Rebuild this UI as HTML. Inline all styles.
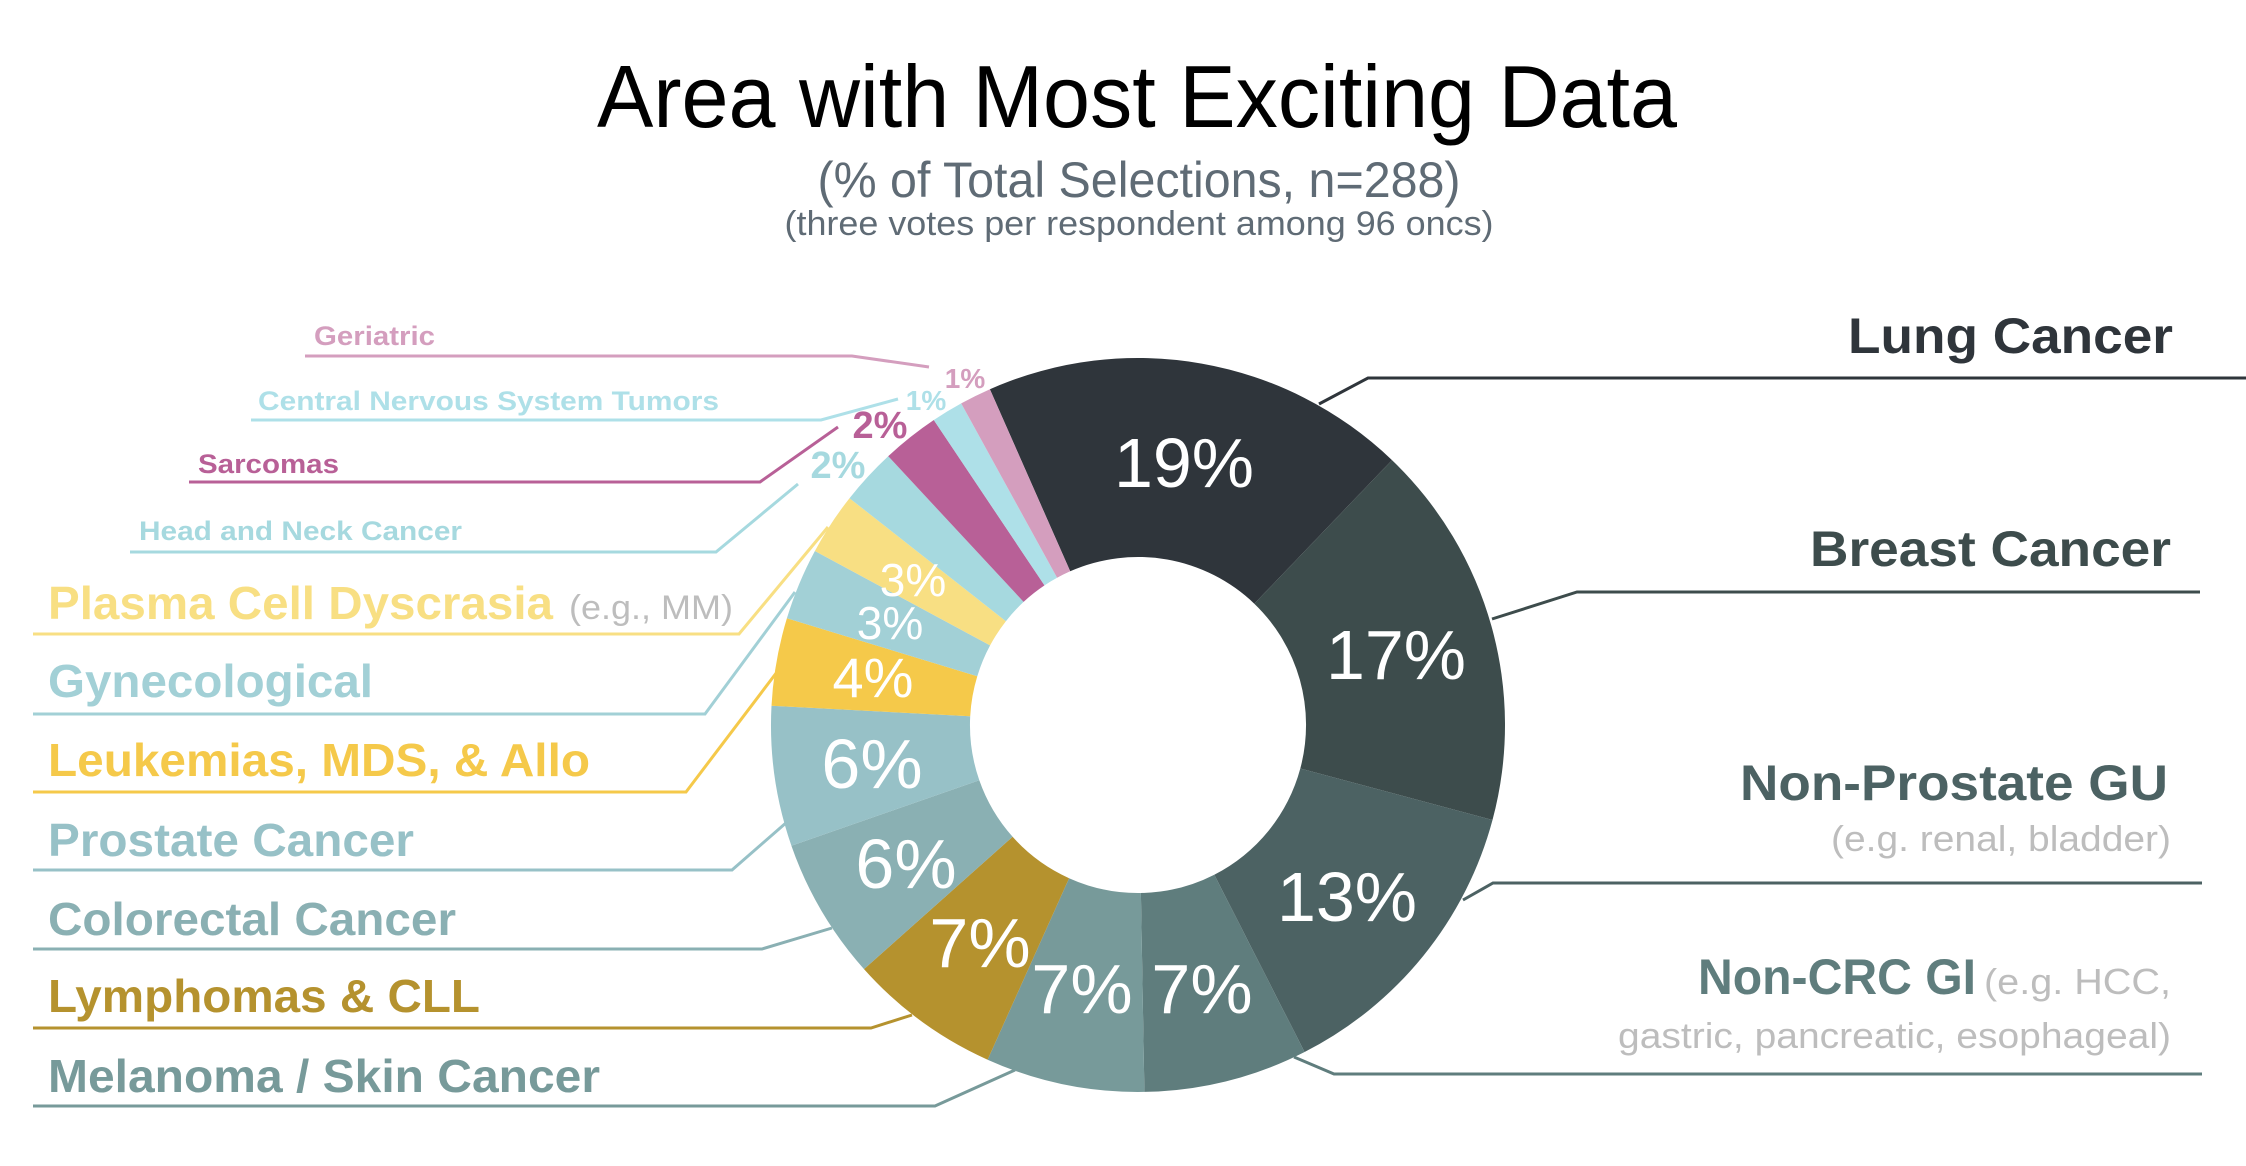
<!DOCTYPE html>
<html><head><meta charset="utf-8"><style>
html,body{margin:0;padding:0;background:#fff;}
svg{display:block;}
text{font-family:"Liberation Sans",sans-serif;}
.n{font-family:"Liberation Sans Narrow","Liberation Sans",sans-serif;font-weight:bold;}
.p{fill:#fff;text-anchor:middle;}
</style></head><body>
<svg width="2246" height="1166" viewBox="0 0 2246 1166" xmlns="http://www.w3.org/2000/svg">
<text x="1137" y="127" font-size="88" text-anchor="middle" textLength="1080" lengthAdjust="spacingAndGlyphs" fill="#000">Area with Most Exciting Data</text>
<text x="1139" y="197" font-size="50" text-anchor="middle" textLength="643" lengthAdjust="spacingAndGlyphs" fill="#5f6b75">(% of Total Selections, n=288)</text>
<text x="1139" y="235" font-size="34" text-anchor="middle" textLength="709" lengthAdjust="spacingAndGlyphs" fill="#5f6b75">(three votes per respondent among 96 oncs)</text>

<g stroke="none">
<path d="M989.9,389.2 A367,367 0 0 1 1392.0,460.1 L1254.3,603.7 A168,168 0 0 0 1070.2,571.3 Z" fill="#2f353b"/>
<path d="M1392.0,460.1 A367,367 0 0 1 1492.5,820.0 L1300.3,768.5 A168,168 0 0 0 1254.3,603.7 Z" fill="#3d4c4c"/>
<path d="M1492.5,820.0 A367,367 0 0 1 1304.6,1052.0 L1214.3,874.7 A168,168 0 0 0 1300.3,768.5 Z" fill="#4c6263"/>
<path d="M1304.6,1052.0 A367,367 0 0 1 1144.4,1091.9 L1140.9,893.0 A168,168 0 0 0 1214.3,874.7 Z" fill="#5f7d7d"/>
<path d="M1144.4,1091.9 A367,367 0 0 1 987.6,1059.7 L1069.1,878.2 A168,168 0 0 0 1140.9,893.0 Z" fill="#779a9a"/>
<path d="M987.6,1059.7 A367,367 0 0 1 864.0,969.1 L1012.6,836.8 A168,168 0 0 0 1069.1,878.2 Z" fill="#b5922e"/>
<path d="M864.0,969.1 A367,367 0 0 1 791.4,845.7 L979.3,780.3 A168,168 0 0 0 1012.6,836.8 Z" fill="#8ab0b3"/>
<path d="M791.4,845.7 A367,367 0 0 1 771.5,705.8 L970.2,716.2 A168,168 0 0 0 979.3,780.3 Z" fill="#97c1c7"/>
<path d="M771.5,705.8 A367,367 0 0 1 786.9,618.3 L977.3,676.2 A168,168 0 0 0 970.2,716.2 Z" fill="#f5c94a"/>
<path d="M786.9,618.3 A367,367 0 0 1 814.9,551.0 L990.1,645.4 A168,168 0 0 0 977.3,676.2 Z" fill="#a2d0d6"/>
<path d="M814.9,551.0 A367,367 0 0 1 849.5,498.2 L1005.9,621.2 A168,168 0 0 0 990.1,645.4 Z" fill="#f8df83"/>
<path d="M849.5,498.2 A367,367 0 0 1 888.2,456.2 L1023.6,601.9 A168,168 0 0 0 1005.9,621.2 Z" fill="#a6d9df"/>
<path d="M888.2,456.2 A367,367 0 0 1 933.8,420.0 L1044.5,585.4 A168,168 0 0 0 1023.6,601.9 Z" fill="#b86097"/>
<path d="M933.8,420.0 A367,367 0 0 1 961.2,403.4 L1057.1,577.8 A168,168 0 0 0 1044.5,585.4 Z" fill="#aee0e8"/>
<path d="M961.2,403.4 A367,367 0 0 1 989.9,389.2 L1070.2,571.3 A168,168 0 0 0 1057.1,577.8 Z" fill="#d49ebe"/>
</g>

<g font-size="70" class="p">
<text x="1184" y="487">19%</text>
<text x="1396" y="679">17%</text>
<text x="1347" y="921">13%</text>
<text x="1202" y="1013">7%</text>
<text x="1082" y="1013">7%</text>
<text x="980" y="967">7%</text>
<text x="906" y="888">6%</text>
<text x="872" y="788">6%</text>
<text x="873" y="697" font-size="56">4%</text>
<text x="913" y="596" font-size="46">3%</text>
<text x="890" y="639" font-size="46">3%</text>
</g>
<g font-weight="bold" text-anchor="middle">
<text x="838" y="478" font-size="38" fill="#a6d9df">2%</text>
<text x="880" y="438" font-size="38" fill="#b86097">2%</text>
<text x="926" y="410" font-size="28" fill="#aee0e8">1%</text>
<text x="965" y="388" font-size="28" fill="#d49ebe">1%</text>
</g>

<g fill="none" stroke-width="3">
<polyline points="1319,404 1368,378 2246,378" stroke="#2f353b"/>
<polyline points="1492,619 1577,592 2200,592" stroke="#3d4c4c"/>
<polyline points="1463,900 1493,883 2202,883" stroke="#4c6263"/>
<polyline points="1294,1057 1334,1074 2202,1074" stroke="#5f7d7d"/>
<polyline points="1015,1070 935,1106 33,1106" stroke="#779a9a"/>
<polyline points="912,1015 871,1028 33,1028" stroke="#b5922e"/>
<polyline points="832,928 762,949 33,949" stroke="#8ab0b3"/>
<polyline points="787,822 732,870 33,870" stroke="#97c1c7"/>
<polyline points="777,672 686,792 33,792" stroke="#f5c94a"/>
<polyline points="795,592 705,714 33,714" stroke="#a2d0d6"/>
<polyline points="828,527 739,634 33,634" stroke="#f8df83"/>
<polyline points="798,484 716,552 130,552" stroke="#a6d9df"/>
<polyline points="838,427 760,482 189,482" stroke="#b86097"/>
<polyline points="898,399 821,420 251,420" stroke="#aee0e8"/>
<polyline points="929,367 852,356 305,356" stroke="#d49ebe"/>
</g>

<g class="n" text-anchor="end" font-size="50">
<text x="2173" y="353" fill="#2f353b" textLength="325" lengthAdjust="spacingAndGlyphs">Lung Cancer</text>
<text x="2171" y="566" fill="#3d4c4c" textLength="361" lengthAdjust="spacingAndGlyphs">Breast Cancer</text>
<text x="2168" y="800" fill="#4c6263" textLength="428" lengthAdjust="spacingAndGlyphs">Non-Prostate GU</text>
</g>
<text x="2171" y="851" font-size="36" text-anchor="end" fill="#bdbdbd" textLength="340" lengthAdjust="spacingAndGlyphs">(e.g. renal, bladder)</text>
<text x="1698" y="994" font-size="50" class="n" fill="#5f7d7d" textLength="278" lengthAdjust="spacingAndGlyphs">Non-CRC GI</text>
<text x="2171" y="994" font-size="36" text-anchor="end" fill="#bdbdbd" textLength="187" lengthAdjust="spacingAndGlyphs">(e.g. HCC,</text>
<text x="2171" y="1048" font-size="36" text-anchor="end" fill="#bdbdbd" textLength="553" lengthAdjust="spacingAndGlyphs">gastric, pancreatic, esophageal)</text>

<g class="n" font-size="46">
<text x="48" y="619" fill="#f8df83" textLength="505" lengthAdjust="spacingAndGlyphs">Plasma Cell Dyscrasia</text>
<text x="48" y="697" fill="#a2d0d6" textLength="325" lengthAdjust="spacingAndGlyphs">Gynecological</text>
<text x="48" y="776" fill="#f5c94a" textLength="542" lengthAdjust="spacingAndGlyphs">Leukemias, MDS, &amp; Allo</text>
<text x="48" y="856" fill="#97c1c7" textLength="366" lengthAdjust="spacingAndGlyphs">Prostate Cancer</text>
<text x="48" y="935" fill="#8ab0b3" textLength="408" lengthAdjust="spacingAndGlyphs">Colorectal Cancer</text>
<text x="48" y="1012" fill="#b5922e" textLength="432" lengthAdjust="spacingAndGlyphs">Lymphomas &amp; CLL</text>
<text x="48" y="1092" fill="#779a9a" textLength="552" lengthAdjust="spacingAndGlyphs">Melanoma / Skin Cancer</text>
</g>
<text x="569" y="619" font-size="34" fill="#bdbdbd" textLength="164" lengthAdjust="spacingAndGlyphs">(e.g., MM)</text>
<g class="n" font-size="27">
<text x="314" y="345" fill="#d49ebe" textLength="121" lengthAdjust="spacingAndGlyphs">Geriatric</text>
<text x="258" y="410" fill="#aee0e8" textLength="461" lengthAdjust="spacingAndGlyphs">Central Nervous System Tumors</text>
<text x="198" y="473" fill="#b86097" textLength="141" lengthAdjust="spacingAndGlyphs">Sarcomas</text>
<text x="139" y="540" fill="#a6d9df" textLength="323" lengthAdjust="spacingAndGlyphs">Head and Neck Cancer</text>
</g>
</svg>
</body></html>
